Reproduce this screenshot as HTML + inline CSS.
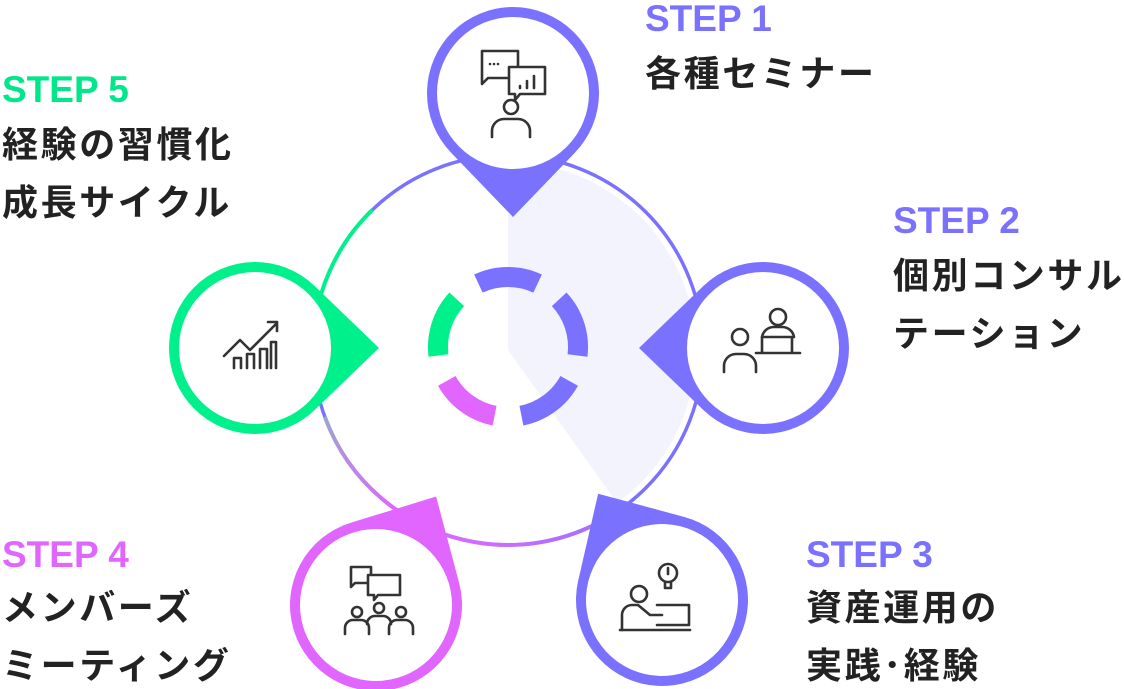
<!DOCTYPE html>
<html><head><meta charset="utf-8"><style>
html,body{margin:0;padding:0;background:#fff;}
svg{display:block;}
text{font-family:"Liberation Sans","Noto Sans CJK JP",sans-serif;}
.st{font-weight:700;font-size:37px;}
.jp{font-weight:700;font-size:36px;fill:#222;letter-spacing:2.6px;}
.ic{fill:none;stroke:#333;stroke-width:2.6;stroke-linecap:round;stroke-linejoin:round;}
</style></head><body>
<svg width="1124" height="689" viewBox="0 0 1124 689" xmlns="http://www.w3.org/2000/svg">
<defs>
<linearGradient id="g1" x1="0" y1="0" x2="1" y2="1"><stop offset="0" stop-color="#9aa6d0"/><stop offset="0.6" stop-color="#e066ff"/><stop offset="1" stop-color="#d06cff"/></linearGradient>
<linearGradient id="g2" x1="0" y1="0" x2="1" y2="0"><stop offset="0" stop-color="#d46cff"/><stop offset="1" stop-color="#a070ff"/></linearGradient>
<path id="drop" d="M -61.97 59.64 L 0 124 L 61.97 59.64 A 86 86 0 1 0 -61.97 59.64 Z"/>
</defs>
<path d="M508 350 L508 162 A188 188 0 0 1 617 503 Z" fill="#f3f3fd"/>
<circle cx="508" cy="350" r="195" fill="none" stroke="#7a72ff" stroke-width="3.5"/>
<path d="M313 350 A195 195 0 0 1 372.5 209.7" fill="none" stroke="#00f08c" stroke-width="4"/>
<path d="M324.8 416.7 A195 195 0 0 0 474.1 542" fill="none" stroke="url(#g1)" stroke-width="4"/>
<path d="M474.1 542 A195 195 0 0 0 605.5 518.9" fill="none" stroke="url(#g2)" stroke-width="4"/>
<g fill="none" stroke-width="20">
<path d="M478.4 283.6 A70 70 0 0 1 537.6 283.6" stroke="#7a72ff"/>
<path d="M559.2 299.3 A70 70 0 0 1 577.5 355.5" stroke="#7a72ff"/>
<path d="M569.2 380.9 A70 70 0 0 1 521.4 415.7" stroke="#7a72ff"/>
<path d="M494.6 415.7 A70 70 0 0 1 446.8 380.9" stroke="#e066ff"/>
<path d="M438.5 355.5 A70 70 0 0 1 456.8 299.3" stroke="#00f08c"/>
</g>
<g transform="translate(513,93)"><use href="#drop" fill="#7a72ff"/><circle r="76" fill="#fff"/></g>
<g transform="translate(763,348) rotate(90)"><use href="#drop" fill="#7a72ff"/><circle r="76" fill="#fff"/></g>
<g transform="translate(255,348) rotate(-90)"><use href="#drop" fill="#00f08c"/><circle r="76" fill="#fff"/></g>
<g transform="translate(376,605) rotate(209)"><use href="#drop" fill="#e066ff"/><circle r="76" fill="#fff"/></g>
<g transform="translate(662,600) rotate(149)"><use href="#drop" fill="#7a72ff"/><circle r="76" fill="#fff"/></g>
<g class="ic">
 <path d="M482 51 h36 v27 h-30 l-6 6 v-6 z"/>
 <path d="M509 67 h36 v27 h-25 l-5 6 v-6 h-6 z" fill="#fff"/>
 <path d="M490 64 h0 M494 64 h0 M498 64 h0"/>
 <path d="M520 88 v-2 M527 88 v-7 M534 88 v-12"/>
 <circle cx="511" cy="107" r="7"/>
 <path d="M492 137 v-6 a12 12 0 0 1 12 -12 h14 a12 12 0 0 1 12 12 v6"/>
 <circle cx="740" cy="337" r="8"/>
 <path d="M724 372 v-6 a12 12 0 0 1 12 -12 h8 a12 12 0 0 1 12 12 v6"/>
 <circle cx="778" cy="317" r="8"/>
 <path d="M762 337 a12 12 0 0 1 12 -10 h8 a12 12 0 0 1 12 10"/>
 <path d="M762 337 h30 v16 h-30 z M756 353 h44"/>
 <path d="M224 356 l16 -16 l10 10 l26 -26 M268 322 h9 v9"/>
 <path d="M234 368 v-10 h7 v10 M247 368 v-14 h7 v14 M260 368 v-19 h7 v19 M271 368 v-26 h5 v26"/>
 <path d="M351 567 h20 v16 h-16 l-4 4 z"/>
 <path d="M368 575 h32 v20 h-22 l-4 5 v-5 h-6 z" fill="#fff"/>
 <circle cx="357" cy="612" r="5"/><circle cx="379" cy="608" r="5"/><circle cx="401" cy="612" r="5"/>
 <path d="M345 634 v-6 a8 8 0 0 1 8 -8 h8 a8 8 0 0 1 8 8 v6 M367 624 a8 8 0 0 1 8 -8 h8 a8 8 0 0 1 8 8 M389 634 v-6 a8 8 0 0 1 8 -8 h8 a8 8 0 0 1 8 8 v6"/>
 <circle cx="668" cy="573" r="9"/><path d="M665 582 v6 h6 v-6 M668 568 v6"/>
 <circle cx="639" cy="594" r="8"/>
 <path d="M622 630 v-15 a10 10 0 0 1 10 -10 h6 l12 10 h12"/>
 <path d="M657 605 h32 v20 h-32"/>
 <path d="M620 630 h70"/>
</g>
<text class="st" x="645" y="31" fill="#7a72ff">STEP 1</text>
<text class="jp" x="645" y="86">各種セミナー</text>
<text class="st" x="2" y="102" fill="#00e68a">STEP 5</text>
<text class="jp" x="2" y="157">経験の習慣化</text>
<text class="jp" x="2" y="215">成長サイクル</text>
<text class="st" x="893" y="233" fill="#7a72ff">STEP 2</text>
<text class="jp" x="893" y="288">個別コンサル</text>
<text class="jp" x="893" y="346">テーション</text>
<text class="st" x="806" y="567" fill="#7a72ff">STEP 3</text>
<text class="jp" x="806" y="620">資産運用の</text>
<text class="jp" x="806" y="678">実践･経験</text>
<text class="st" x="2" y="567" fill="#e066ff">STEP 4</text>
<text class="jp" x="2" y="620">メンバーズ</text>
<text class="jp" x="2" y="678">ミーティング</text>
</svg>
</body></html>
